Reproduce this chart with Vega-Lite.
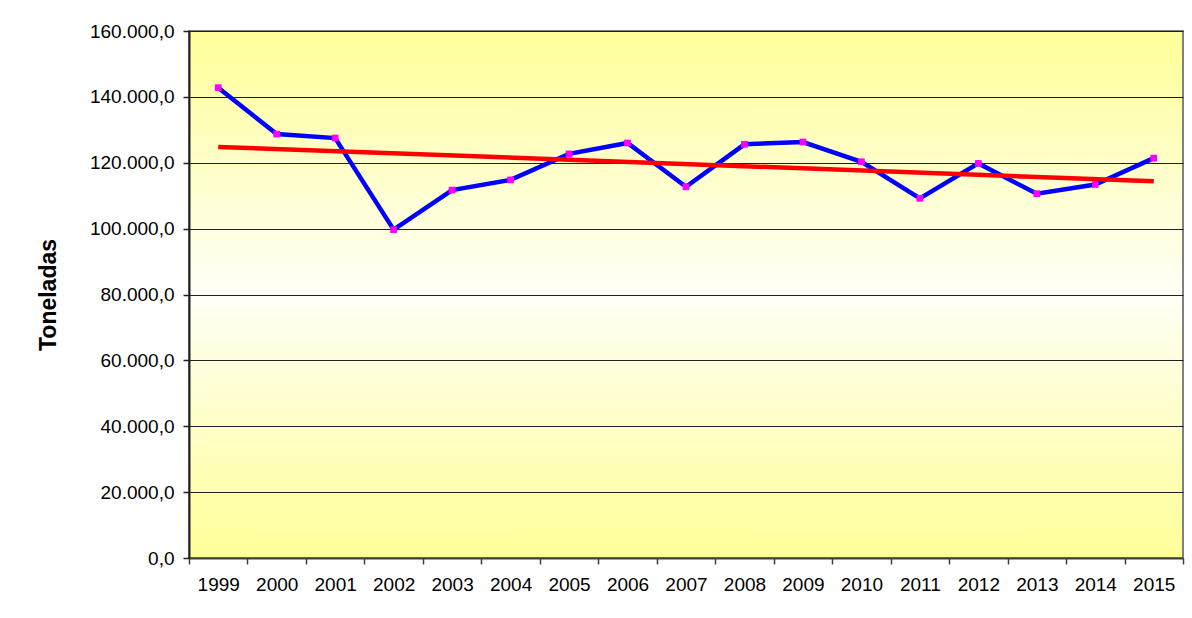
{
  "$schema": "https://vega.github.io/schema/vega-lite/v6.json",
  "width": 994,
  "height": 527,
  "autosize": {"type": "none"},
  "padding": {"left": 189, "top": 31, "right": 9, "bottom": 60},
  "background": "#ffffff",
  "config": {
    "view": {
      "stroke": "#808080",
      "strokeWidth": 2,
      "fill": {
        "gradient": "linear",
        "x1": 0, "y1": 0, "x2": 0, "y2": 1,
        "stops": [
          {"offset": 0, "color": "#FFFF99"},
          {"offset": 0.5, "color": "#FFFFF6"},
          {"offset": 1, "color": "#FFFF99"}
        ]
      }
    },
    "font": "Liberation Sans"
  },
  "data": {
    "values": [
      {"year": 1999, "value": 142800},
      {"year": 2000, "value": 128700},
      {"year": 2001, "value": 127500},
      {"year": 2002, "value": 99700},
      {"year": 2003, "value": 111700},
      {"year": 2004, "value": 114800},
      {"year": 2005, "value": 122700},
      {"year": 2006, "value": 126000},
      {"year": 2007, "value": 112700},
      {"year": 2008, "value": 125600},
      {"year": 2009, "value": 126300},
      {"year": 2010, "value": 120300},
      {"year": 2011, "value": 109200},
      {"year": 2012, "value": 119800},
      {"year": 2013, "value": 110600},
      {"year": 2014, "value": 113400},
      {"year": 2015, "value": 121400}
    ]
  },
  "encoding": {
    "x": {
      "field": "year",
      "type": "ordinal",
      "scale": {"type": "band", "paddingInner": 0, "paddingOuter": 0},
      "axis": {
        "title": null,
        "labelAngle": 0,
        "tickBand": "extent",
        "grid": false,
        "domainColor": "#404040",
        "domainWidth": 2,
        "tickColor": "#404040",
        "tickWidth": 1.5,
        "tickSize": 6,
        "labelFont": "Liberation Sans",
        "labelFontSize": 19,
        "labelColor": "#000000",
        "labelPadding": 11
      }
    },
    "y": {
      "field": "value",
      "type": "quantitative",
      "scale": {"domain": [0, 160000], "nice": false},
      "axis": {
        "title": "Toneladas",
        "titleFont": "Liberation Sans",
        "titleFontSize": 23,
        "titleFontWeight": "bold",
        "titleColor": "#000000",
        "titleX": -129,
        "values": [0, 20000, 40000, 60000, 80000, 100000, 120000, 140000, 160000],
        "labelExpr": "replace(replace(replace(format(datum.value, ',.1f'), ',', '_'), '.', ','), '_', '.')",
        "labelFont": "Liberation Sans",
        "labelFontSize": 19,
        "labelColor": "#000000",
        "labelPadding": 9,
        "tickSize": 6,
        "tickColor": "#202020",
        "tickWidth": 1.5,
        "domainColor": "#202020",
        "domainWidth": 2,
        "grid": true,
        "gridColor": "#202020",
        "gridWidth": 1
      }
    }
  },
  "layer": [
    {
      "mark": {"type": "line", "color": "#0000FF", "strokeWidth": 4.5}
    },
    {
      "mark": {"type": "point", "shape": "square", "filled": true, "color": "#FF00FF", "size": 45, "opacity": 1}
    },
    {
      "transform": [{"regression": "value", "on": "year"}],
      "mark": {"type": "line", "color": "#FF0000", "strokeWidth": 4.5}
    }
  ]
}
